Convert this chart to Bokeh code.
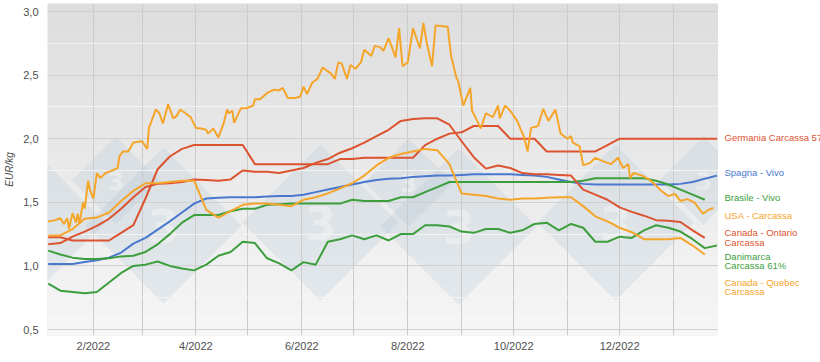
import numpy as np
import pandas as pd
from bokeh.plotting import figure
from bokeh.layouts import row
from bokeh.models import (Range1d, FixedTicker, MonthsTicker, CustomJSTickFormatter, BoxAnnotation)
from bokeh.core.properties import value
from bokeh.embed import file_html
from bokeh.resources import INLINE

# ---------------- data (EUR/kg) ----------------
weeks = ["2022-01-06", "2022-01-13", "2022-01-20", "2022-01-27",
         "2022-02-03", "2022-02-10", "2022-02-17", "2022-02-24",
         "2022-03-03", "2022-03-10", "2022-03-17", "2022-03-24", "2022-03-31",
         "2022-04-07", "2022-04-14", "2022-04-21", "2022-04-28",
         "2022-05-05", "2022-05-12", "2022-05-19", "2022-05-26",
         "2022-06-02", "2022-06-09", "2022-06-16", "2022-06-23", "2022-06-30",
         "2022-07-07", "2022-07-14", "2022-07-21", "2022-07-28",
         "2022-08-04", "2022-08-11", "2022-08-18", "2022-08-25",
         "2022-09-01", "2022-09-08", "2022-09-15", "2022-09-22", "2022-09-29",
         "2022-10-06", "2022-10-13", "2022-10-20", "2022-10-27",
         "2022-11-03", "2022-11-10", "2022-11-17", "2022-11-24",
         "2022-12-01", "2022-12-08", "2022-12-15", "2022-12-22", "2022-12-29",
         "2023-01-05", "2023-01-12", "2023-01-19", "2023-01-26"]

germania = [1.225, 1.225, 1.20, 1.20, 1.20, 1.20, 1.26, 1.32, 1.53, 1.76,
            1.86, 1.92, 1.95, 1.95, 1.95, 1.95, 1.95, 1.80, 1.80, 1.80,
            1.80, 1.80, 1.80, 1.80, 1.84, 1.84, 1.85, 1.85, 1.85, 1.85,
            1.85, 1.95, 2.00, 2.04, 2.05, 2.10, 2.10, 2.10, 2.00, 2.00,
            2.00, 1.90, 1.90, 1.90, 1.90, 1.90, 1.95, 2.00, 2.00, 2.00,
            2.00, 2.00, 2.00, 2.00, 2.00, 2.00]

spagna = [1.015, 1.015, 1.015, 1.03, 1.045, 1.065, 1.105, 1.175, 1.22, 1.285,
          1.35, 1.42, 1.49, 1.53, 1.535, 1.54, 1.54, 1.54, 1.545, 1.55,
          1.55, 1.56, 1.58, 1.60, 1.62, 1.64, 1.66, 1.675, 1.685, 1.69,
          1.70, 1.705, 1.71, 1.71, 1.715, 1.72, 1.72, 1.72, 1.72, 1.715,
          1.71, 1.70, 1.68, 1.66, 1.645, 1.64, 1.64, 1.64, 1.64, 1.64,
          1.64, 1.64, 1.645, 1.66, 1.685, 1.71]

brasile = [1.12, 1.09, 1.065, 1.055, 1.055, 1.06, 1.075, 1.08, 1.11, 1.17,
           1.25, 1.34, 1.40, 1.40, 1.40, 1.43, 1.45, 1.45, 1.48, 1.485,
           1.49, 1.49, 1.49, 1.49, 1.49, 1.52, 1.51, 1.51, 1.51, 1.54,
           1.54, 1.58, 1.62, 1.66, 1.66, 1.66, 1.66, 1.66, 1.66, 1.66,
           1.66, 1.66, 1.66, 1.66, 1.67, 1.69, 1.69, 1.69, 1.69, 1.69,
           1.67, 1.64, 1.60, 1.56, 1.52, None]

canada_ontario = [1.17, 1.18, 1.23, 1.27, 1.315, 1.37, 1.45, 1.54, 1.62, 1.645,
                  1.65, 1.66, 1.68, 1.675, 1.67, 1.68, 1.75, 1.74, 1.74, 1.73,
                  1.75, 1.77, 1.81, 1.84, 1.89, 1.925, 1.97, 2.02, 2.07, 2.14,
                  2.155, 2.16, 2.16, 2.11, 1.98, 1.855, 1.765, 1.79, 1.77, 1.73,
                  1.72, 1.72, 1.715, 1.71, 1.60, 1.56, 1.52, 1.46, 1.425, 1.395,
                  1.36, 1.355, 1.345, 1.28, 1.22, None]

danimarca = [0.86, 0.805, 0.795, 0.785, 0.795, 0.87, 0.945, 1.0, 1.01, 1.035,
             1.00, 0.98, 0.965, 1.01, 1.08, 1.11, 1.19, 1.18, 1.06, 1.02,
             0.965, 1.03, 1.01, 1.19, 1.21, 1.24, 1.21, 1.24, 1.20, 1.25,
             1.25, 1.32, 1.32, 1.31, 1.27, 1.26, 1.29, 1.29, 1.26, 1.28,
             1.33, 1.34, 1.28, 1.33, 1.30, 1.19, 1.19, 1.23, 1.22, 1.28,
             1.32, 1.30, 1.27, 1.21, 1.14, 1.16]

canada_quebec = [1.24, 1.24, 1.29, 1.37, 1.38, 1.42, 1.51, 1.59, 1.65, 1.65,
                 1.66, 1.67, 1.67, 1.44, 1.38, 1.43, 1.48, 1.49, 1.49, 1.48,
                 1.47, 1.52, 1.54, 1.57, 1.61, 1.65, 1.71, 1.79, 1.85, 1.88,
                 1.90, 1.92, 1.91, 1.80, 1.57, 1.56, 1.55, 1.53, 1.52, 1.53,
                 1.53, 1.535, 1.54, 1.54, 1.47, 1.39, 1.35, 1.30, 1.265, 1.21,
                 1.21, 1.21, 1.22, 1.16, 1.09, None]

# USA - Carcassa: daily quotes (day number counted from 2022-01-01)
usa_day = [5, 9, 12, 14, 16, 17, 19, 21, 22, 23, 25, 26, 28, 29, 31, 33, 35, 38, 41, 45,
           46, 48, 51, 52, 54, 59, 62, 63, 67, 69, 71, 74, 77, 79, 81, 84, 87, 90, 93, 96,
           97, 100, 103, 106, 108, 109, 111, 112, 116, 119, 123, 124, 127, 131, 135, 138, 140, 143, 147, 150,
           152, 154, 157, 160, 163, 168, 170, 172, 174, 177, 179, 182, 185, 187, 191, 193, 196, 198, 201, 205,
           207, 209, 212, 215, 219, 221, 223, 226, 228, 235, 237, 240, 241, 244, 248, 249, 252, 254, 257, 261,
           264, 265, 268, 271, 275, 279, 281, 283, 287, 290, 293, 297, 300, 304, 306, 307, 311, 313, 317, 320,
           325, 329, 333, 336, 339, 340, 342, 347, 352, 358, 362, 366, 369, 373, 377, 382, 385, 388]
usa_val = [1.35, 1.36, 1.375, 1.33, 1.375, 1.29, 1.415, 1.34, 1.41, 1.33, 1.50, 1.45, 1.67, 1.60, 1.53, 1.73, 1.69, 1.73, 1.745, 1.77,
           1.86, 1.90, 1.90, 1.92, 1.97, 1.98, 1.92, 2.085, 2.23, 2.20, 2.12, 2.27, 2.16, 2.18, 2.23, 2.20, 2.17, 2.085, 2.08, 2.07,
           2.04, 2.08, 2.01, 2.12, 2.23, 2.20, 2.22, 2.125, 2.24, 2.24, 2.26, 2.31, 2.31, 2.36, 2.385, 2.38, 2.40, 2.32, 2.32, 2.33,
           2.41, 2.35, 2.44, 2.47, 2.56, 2.51, 2.47, 2.60, 2.59, 2.47, 2.58, 2.55, 2.60, 2.70, 2.65, 2.73, 2.72, 2.69, 2.79, 2.64,
           2.87, 2.57, 2.60, 2.87, 2.71, 2.91, 2.75, 2.57, 2.89, 2.88, 2.65, 2.48, 2.455, 2.26, 2.40, 2.22, 2.14, 2.08, 2.20, 2.17,
           2.26, 2.16, 2.26, 2.22, 2.14, 2.01, 1.90, 2.085, 2.10, 2.235, 2.14, 2.23, 2.04, 2.00, 2.02, 1.97, 1.94, 1.79, 1.81, 1.85,
           1.82, 1.80, 1.85, 1.77, 1.80, 1.69, 1.73, 1.71, 1.67, 1.59, 1.55, 1.565, 1.51, 1.525, 1.50, 1.41, 1.44, 1.455]

y_ticks = [0.5, 1.0, 1.5, 2.0, 2.5, 3.0]
y_minor = [0.75, 1.25, 1.75, 2.25, 2.75]

label_texts = ["Germania Carcassa 57%", "Spagna - Vivo", "Brasile - Vivo", "USA - Carcassa",
               "Canada - Ontario", "Carcassa", "Danimarca", "Carcassa 61%",
               "Canada - Quebec", "Carcassa"]

# ---------------- styling ----------------
RED = "#dc5330"
BLUE = "#4a78cf"
GREEN = "#3c9e3c"
ORANGE = "#f5a52a"
label_colors = [RED, BLUE, GREEN, ORANGE, RED, RED, GREEN, GREEN, ORANGE, ORANGE]
label_y = [2.009, 1.734, 1.538, 1.396, 1.262, 1.184, 1.074, 1.003, 0.870, 0.799]

week_dates = pd.to_datetime(weeks)
usa_dates = pd.Timestamp("2022-01-01") + pd.to_timedelta(usa_day, unit="D")

def arr(v):
    return np.array([np.nan if a is None else a for a in v], dtype=float)

Y0, Y1 = 0.453, 3.063
X0, X1 = pd.Timestamp("2022-01-05 14:00"), pd.Timestamp("2023-01-26 22:00")
p = figure(width=718, height=362, x_axis_type="datetime",
           output_backend="svg", toolbar_location=None,
           x_range=Range1d(X0, X1), y_range=Range1d(Y0, Y1),
           min_border_left=47, min_border_right=0, min_border_top=3, min_border_bottom=27)
p.outline_line_color = None
p.border_fill_color = "white"
p.background_fill_color = "#e8e8e8"

# vertical gradient of the plot background
nb = 30
for k in range(nb):
    b = Y0 + (Y1 - Y0) * k / nb
    t = Y0 + (Y1 - Y0) * (k + 1) / nb
    g = int(round(246 - (246 - 221) * (k + 0.5) / nb))
    p.add_layout(BoxAnnotation(bottom=b, top=t, fill_color=f"#{g:02x}{g:02x}{g:02x}",
                               fill_alpha=1.0, line_color=None, level="image"))

# faint logo watermark (diamonds with a "3"), placed in picture pixels
def px_date(px):
    return pd.Timestamp("2022-01-01") + pd.Timedelta(days=(px - 39) / 1.737)

def py_val(py):
    return 3.0 - (py - 11) / 127.2

marks = [(27, 222, 78, 46), (163, 225, 78, 46), (320, 222, 78, 46), (458, 226, 78, 46),
         (615, 222, 78, 46), (115, 180, 44, 24), (408, 182, 44, 24), (703, 180, 44, 24)]
for cx, cy, r, fs in marks:
    xs = [px_date(cx), px_date(cx + r), px_date(cx), px_date(cx - r)]
    ys = [py_val(cy - r), py_val(cy), py_val(cy + r), py_val(cy)]
    p.patch(xs, ys, fill_color="#a9bed3", fill_alpha=0.22, line_color=None, level="underlay")
    p.text([px_date(cx)], [py_val(cy)], text=["3"], text_color="#f4f4f4", text_alpha=0.55,
           text_font=value("DejaVu Sans"), text_font_style="bold", text_font_size=f"{fs}px",
           text_align="center", text_baseline="middle", level="underlay")

# grids
p.xgrid.ticker = MonthsTicker(months=list(range(12)))
p.xgrid.grid_line_color = "#cbcbcb"
p.ygrid.grid_line_color = "#d0d0d0"
p.ygrid.minor_grid_line_color = "#f3f3f3"

# axes
p.xaxis.ticker = MonthsTicker(months=[1, 3, 5, 7, 9, 11])
p.xaxis.formatter = CustomJSTickFormatter(
    code="const d = new Date(tick); return (d.getUTCMonth() + 1) + '/' + d.getUTCFullYear();")
p.yaxis.ticker = FixedTicker(ticks=y_ticks, minor_ticks=y_minor)
p.yaxis.formatter = CustomJSTickFormatter(code="return tick.toFixed(1).replace('.', ',');")
for ax in (p.xaxis[0], p.yaxis[0]):
    ax.axis_line_color = None
    ax.major_tick_line_color = None
    ax.minor_tick_line_color = None
    ax.major_tick_out = 0
    ax.major_tick_in = 0
    ax.minor_tick_out = 0
    ax.minor_tick_in = 0
    ax.major_label_text_font = "Liberation Sans"
    ax.major_label_text_font_size = "11px"
    ax.major_label_text_color = "#505050"
p.xaxis.major_label_standoff = 4
p.yaxis.major_label_standoff = 9
p.yaxis.axis_label = "EUR/kg"
p.yaxis.axis_label_text_font = "Liberation Sans"
p.yaxis.axis_label_text_font_size = "10px"
p.yaxis.axis_label_text_font_style = "italic"
p.yaxis.axis_label_text_color = "#505050"
p.yaxis.axis_label_standoff = 5

# lines
lw = 2
p.line(week_dates, arr(germania), line_color=RED, line_width=lw)
p.line(week_dates, arr(spagna), line_color=BLUE, line_width=lw)
p.line(week_dates, arr(brasile), line_color=GREEN, line_width=lw)
p.line(usa_dates, arr(usa_val), line_color=ORANGE, line_width=lw)
p.line(week_dates, arr(canada_ontario), line_color=RED, line_width=lw)
p.line(week_dates, arr(danimarca), line_color=GREEN, line_width=lw)
p.line(week_dates, arr(canada_quebec), line_color=ORANGE, line_width=lw)

# series labels at the right, in a companion panel sharing the y scale
q = figure(width=102, height=362, output_backend="svg", toolbar_location=None,
           x_range=Range1d(0, 102), y_range=p.y_range,
           x_axis_location=None, y_axis_location=None,
           min_border_left=0, min_border_right=0, min_border_top=3, min_border_bottom=27)
q.outline_line_color = None
q.grid.visible = False
q.background_fill_color = "white"
q.border_fill_color = "white"
q.text(x=[6] * len(label_texts), y=label_y, text=label_texts, text_color=label_colors,
       text_font=value("Liberation Sans"), text_font_size="9.5px",
       text_align="left", text_baseline="middle")

layout = row(p, q, spacing=0)
open("out.html", "w").write(file_html(layout, INLINE))
